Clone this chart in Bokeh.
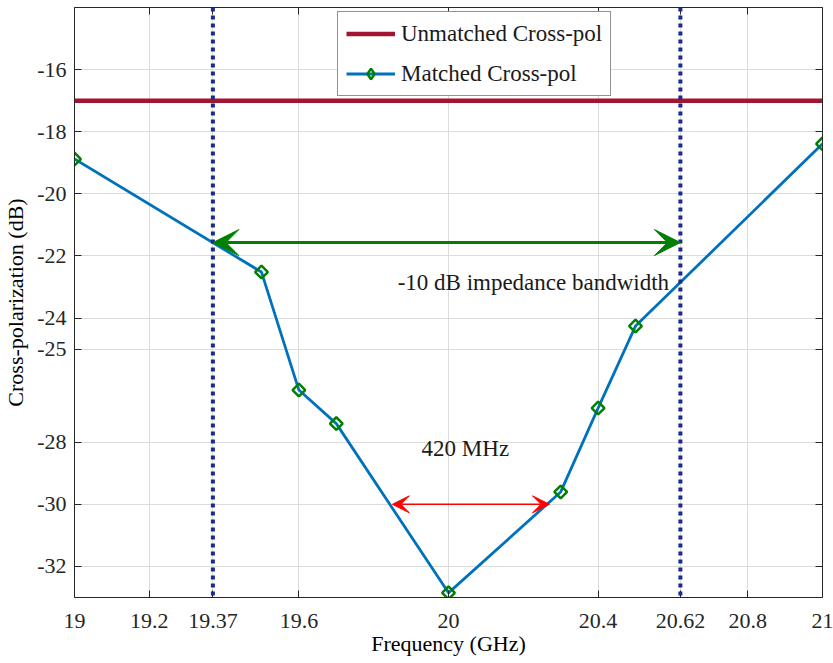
from bokeh.plotting import figure
from bokeh.models import (FixedTicker, LinearAxis, Range1d, Legend, LegendItem,
                          Arrow, VeeHead, Label, Span, ColumnDataSource)
from bokeh.embed import file_html
from bokeh.resources import INLINE

# ---- data ----
freq = [19.0, 19.5, 19.6, 19.7, 20.0, 20.3, 20.4, 20.5, 21.0]
matched = [-18.88, -22.52, -26.32, -27.4, -32.85, -29.6, -26.9, -24.26, -18.39]
unmatched_x = [19.0, 21.0]
unmatched_y = [-17.0, -17.0]
band_edges = [19.37, 20.62]
band_arrow_y = -21.57
mhz_arrow_x = [19.85, 20.27]
mhz_arrow_y = -30.0
x_ticks = [19, 19.2, 19.37, 19.6, 20, 20.4, 20.62, 20.8, 21]
x_tick_labels = ["19", "19.2", "19.37", "19.6", "20", "20.4", "20.62", "20.8", "21"]
y_ticks = [-32, -30, -28, -25, -24, -22, -20, -18, -16]
y_tick_labels = ["-32", "-30", "-28", "-25", "-24", "-22", "-20", "-18", "-16"]

FONT = "Liberation Serif"
AX = "#262626"

p = figure(width=833, height=663, output_backend="svg", toolbar_location=None,
           x_range=Range1d(19, 21), y_range=Range1d(-33, -14),
           min_border_left=74, min_border_right=11, min_border_top=7,
           min_border_bottom=66, background_fill_color="white",
           border_fill_color="white", outline_line_color=None)

# axes
for ax, ticks, labels in ((p.xaxis[0], x_ticks, x_tick_labels),
                          (p.yaxis[0], y_ticks, y_tick_labels)):
    ax.ticker = FixedTicker(ticks=ticks)
    ax.major_label_overrides = {t: l for t, l in zip(ticks, labels)}
    ax.major_tick_in = 7
    ax.major_tick_out = 0
    ax.minor_tick_line_color = None
    ax.axis_line_color = AX
    ax.major_tick_line_color = AX
    ax.major_label_text_font = FONT
    ax.major_label_text_font_size = "22px"
    ax.major_label_text_color = AX
    ax.axis_label_text_font = FONT
    ax.axis_label_text_font_size = "22px"
    ax.axis_label_text_font_style = "normal"
    ax.axis_label_text_color = "black"

p.xaxis.axis_label = "Frequency (GHz)"
p.yaxis.axis_label = "Cross-polarization (dB)"
p.xaxis.major_label_standoff = 16
p.xaxis.axis_label_standoff = 0
p.yaxis.major_label_standoff = 8
p.yaxis.axis_label_standoff = 6

top = LinearAxis(ticker=FixedTicker(ticks=x_ticks), major_tick_in=7, major_tick_out=0,
                 minor_tick_line_color=None, major_label_text_font_size="0px",
                 major_label_text_color=None,
                 major_label_standoff=0, axis_line_color=AX, major_tick_line_color=AX)
right = LinearAxis(ticker=FixedTicker(ticks=y_ticks), major_tick_in=7, major_tick_out=0,
                   minor_tick_line_color=None, major_label_text_font_size="0px",
                   major_label_text_color=None,
                   major_label_standoff=0, axis_line_color=AX, major_tick_line_color=AX)
p.add_layout(top, "above")
p.add_layout(right, "right")

# grid
p.xgrid.ticker = FixedTicker(ticks=x_ticks)
p.ygrid.ticker = FixedTicker(ticks=y_ticks)
p.grid.grid_line_color = "#DCDCDC"
p.grid.grid_line_width = 1

# vertical dotted band edges
for xe in band_edges:
    p.add_layout(Span(location=xe, dimension="height", line_color="#1B2A8C",
                      line_width=4, line_dash="4 4"))

# unmatched
r_un = p.line(unmatched_x, unmatched_y, line_color="#A2142F", line_width=4.5)

# matched
src = ColumnDataSource(dict(x=freq, y=matched))
r_m = p.line("x", "y", source=src, line_color="#0072BD", line_width=2.8)
r_s = p.scatter("x", "y", source=src, marker="square", angle=0.785398, size=9,
                line_color="#008000", line_width=2.5, fill_color=None)
# legend-only marker proxy (not visible in the plot area)
r_leg = p.scatter(x=[float("nan")], y=[float("nan")], marker="diamond",
                  line_color="#008000", line_width=2.5, fill_color=None)

# arrows
p.add_layout(Arrow(start=VeeHead(size=26, fill_color="#008000", line_color="#008000"),
                   end=VeeHead(size=26, fill_color="#008000", line_color="#008000"),
                   x_start=band_edges[0], y_start=band_arrow_y,
                   x_end=band_edges[1], y_end=band_arrow_y,
                   line_color="#008000", line_width=3))
p.add_layout(Arrow(start=VeeHead(size=17, fill_color="#FF0000", line_color="#FF0000"),
                   end=VeeHead(size=17, fill_color="#FF0000", line_color="#FF0000"),
                   x_start=mhz_arrow_x[0], y_start=mhz_arrow_y,
                   x_end=mhz_arrow_x[1], y_end=mhz_arrow_y,
                   line_color="#FF0000", line_width=1.5))

p.add_layout(Label(x=19.864, y=-22.85, text="-10 dB impedance bandwidth",
                   text_font=FONT, text_font_size="23px", text_baseline="middle",
                   text_color="#1a1a1a"))
p.add_layout(Label(x=19.928, y=-28.19, text="420 MHz",
                   text_font=FONT, text_font_size="23px", text_baseline="middle",
                   text_color="#1a1a1a"))

legend = Legend(items=[LegendItem(label="Unmatched Cross-pol", renderers=[r_un]),
                       LegendItem(label="Matched Cross-pol", renderers=[r_m, r_leg])],
                location=(263, 501), glyph_width=49, glyph_height=27,
                spacing=13, padding=8, margin=0, label_standoff=6,
                label_text_font=FONT, label_text_font_size="23px",
                label_text_color="#1a1a1a",
                border_line_color="#262626", border_line_width=1,
                background_fill_color="white", background_fill_alpha=1)
p.add_layout(legend)

open("out.html", "w").write(file_html(p, INLINE))
